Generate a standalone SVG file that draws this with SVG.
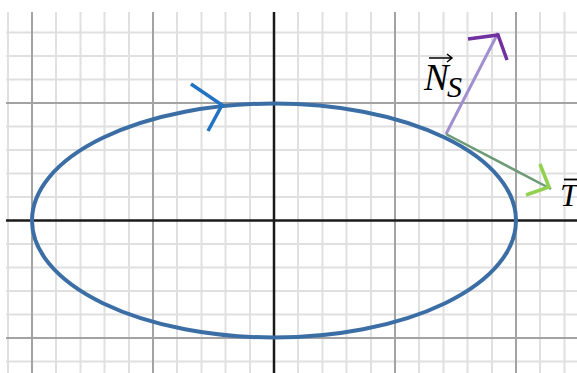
<svg xmlns="http://www.w3.org/2000/svg" width="577" height="373" viewBox="0 0 577 373">
<style>
.minor{stroke:#e0e0e0;stroke-width:2}
.major{stroke:#a3a3a3;stroke-width:2}
.axis{stroke:#1a1a1a;stroke-width:2.5}
.lbl{font-family:"Liberation Serif","DejaVu Serif",serif;font-style:italic;fill:#000}
</style>
<rect width="577" height="373" fill="#fff"/>
<g id="grid">
<g class="minor">
<line x1="8" y1="12" x2="8" y2="373"/><line x1="56" y1="12" x2="56" y2="373"/><line x1="80.5" y1="12" x2="80.5" y2="373"/><line x1="104.5" y1="12" x2="104.5" y2="373"/><line x1="129" y1="12" x2="129" y2="373"/>
<line x1="177" y1="12" x2="177" y2="373"/><line x1="201.5" y1="12" x2="201.5" y2="373"/><line x1="225.5" y1="12" x2="225.5" y2="373"/><line x1="250" y1="12" x2="250" y2="373"/>
<line x1="298" y1="12" x2="298" y2="373"/><line x1="322.5" y1="12" x2="322.5" y2="373"/><line x1="346.5" y1="12" x2="346.5" y2="373"/><line x1="371" y1="12" x2="371" y2="373"/>
<line x1="419" y1="12" x2="419" y2="373"/><line x1="443.5" y1="12" x2="443.5" y2="373"/><line x1="467.5" y1="12" x2="467.5" y2="373"/><line x1="492" y1="12" x2="492" y2="373"/>
<line x1="540" y1="12" x2="540" y2="373"/><line x1="564.5" y1="12" x2="564.5" y2="373"/>
<line x1="6" y1="32.5" x2="577" y2="32.5"/><line x1="6" y1="56" x2="577" y2="56"/><line x1="6" y1="79.5" x2="577" y2="79.5"/>
<line x1="6" y1="126.5" x2="577" y2="126.5"/><line x1="6" y1="150" x2="577" y2="150"/><line x1="6" y1="173.5" x2="577" y2="173.5"/><line x1="6" y1="197" x2="577" y2="197"/>
<line x1="6" y1="244" x2="577" y2="244"/><line x1="6" y1="267.5" x2="577" y2="267.5"/><line x1="6" y1="291" x2="577" y2="291"/><line x1="6" y1="314.5" x2="577" y2="314.5"/>
<line x1="6" y1="361.5" x2="577" y2="361.5"/>
</g>
<g class="major">
<line x1="32" y1="12" x2="32" y2="373"/><line x1="153" y1="12" x2="153" y2="373"/><line x1="395" y1="12" x2="395" y2="373"/><line x1="516" y1="12" x2="516" y2="373"/>
<line x1="6" y1="103" x2="577" y2="103"/><line x1="6" y1="338" x2="577" y2="338"/>
</g>
<g class="axis">
<line x1="274" y1="12" x2="274" y2="373"/>
<line x1="6" y1="220.5" x2="577" y2="220.5"/>
</g>
</g>
<g id="ellipse">
<ellipse cx="274" cy="220.5" rx="242" ry="117" fill="none" stroke="#3c6ea6" stroke-width="4"/>
<polyline points="191,84 222,105 208,131" fill="none" stroke="#1f72c4" stroke-width="3.5"/>
</g>
<g id="connectors">
<g id="normal">
<line x1="446" y1="134" x2="498" y2="33" stroke="#a28fd0" stroke-width="3"/>
<polyline points="468,39 498,35 507,60" fill="none" stroke="#7030a0" stroke-width="3.5"/>
</g>
<g id="tangent">
<line x1="446" y1="134" x2="551" y2="189" stroke="#6f9a78" stroke-width="2.5"/>
<polyline points="540,164 549,187 526,195" fill="none" stroke="#92d050" stroke-width="3.5"/>
</g>
</g>
<g id="label-N">
<text class="lbl" x="424" y="90" font-size="37">N</text>
<text class="lbl" x="447" y="97" font-size="30">S</text>
<path d="M429,58 H452 M447,54 L452,58 L447,62" fill="none" stroke="#000" stroke-width="1.5"/>
</g>
<g id="label-T">
<text class="lbl" x="560" y="206" font-size="32">T</text>
<line x1="564" y1="179.5" x2="577" y2="179.5" stroke="#000" stroke-width="1.8"/>
</g>
</svg>
